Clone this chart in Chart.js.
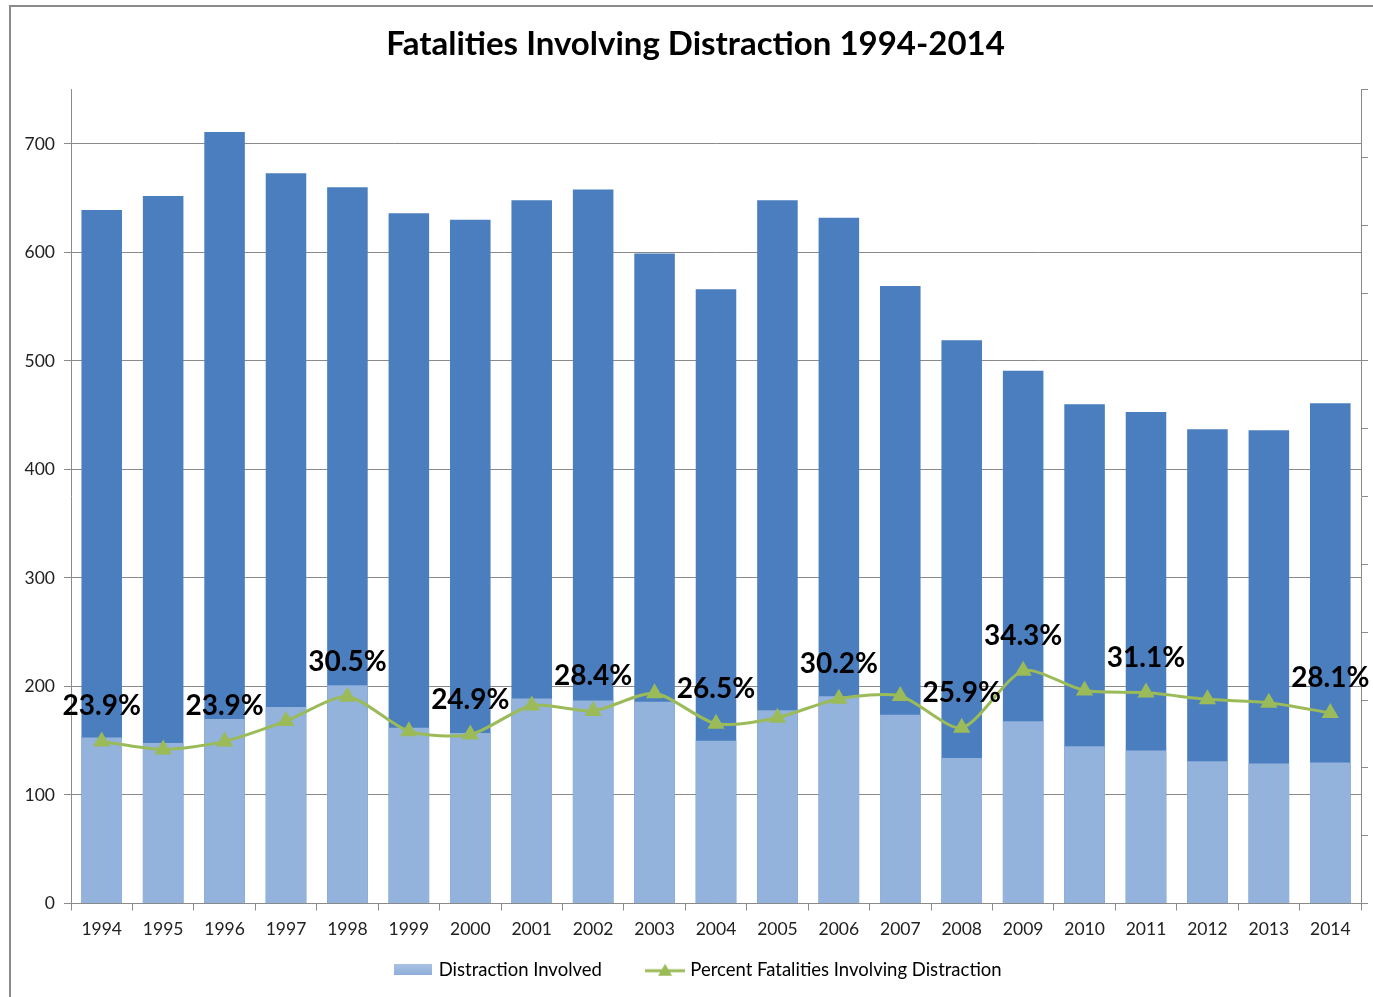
<!DOCTYPE html>
<html>
<head>
<meta charset="utf-8">
<script src="https://cdn.jsdelivr.net/npm/chart.js@4/dist/chart.umd.min.js"></script>
<style>
  html, body { margin: 0; padding: 0; background: #fff; }
  #wrap { position: relative; width: 1373px; height: 997px; overflow: hidden; }
  #frame { position: absolute; left: 9px; top: 5px; width: 1380px; height: 992px; border-left: 2px solid #8a8a8a; border-top: 2px solid #8a8a8a; box-sizing: border-box; }
  canvas { position: absolute; left: 0; top: 0; }
</style>
</head>
<body>
<div id="wrap">
  <div id="frame"></div>
  <canvas id="c" width="1373" height="997"></canvas>
</div>
<script>
const years = ['1994','1995','1996','1997','1998','1999','2000','2001','2002','2003','2004','2005','2006','2007','2008','2009','2010','2011','2012','2013','2014'];
const totalFatalities = [639, 652, 711, 673, 660, 636, 630, 648, 658, 599, 566, 648, 632, 569, 519, 491, 460, 453, 437, 436, 461];
const distractionInvolved = [153, 148, 170, 181, 201, 162, 157, 189, 187, 186, 150, 178, 191, 174, 134, 168, 145, 141, 131, 129, 130];
const percentDistraction = [0.239, 0.227, 0.239, 0.269, 0.305, 0.254, 0.249, 0.292, 0.284, 0.310, 0.265, 0.274, 0.302, 0.306, 0.259, 0.343, 0.314, 0.311, 0.301, 0.296, 0.281];
const percentLabels = ['23.9%', null, '23.9%', null, '30.5%', null, '24.9%', null, '28.4%', null, '26.5%', null, '30.2%', null, '25.9%', '34.3%', null, '31.1%', null, null, '28.1%'];
const leftTicks = [0, 100, 200, 300, 400, 500, 600, 700];

const FONT = "Lato, 'Open Sans', sans-serif";
const GREEN = '#9BBB59';

function makeBarIcon() {
  const c = document.createElement('canvas');
  c.width = 38; c.height = 11;
  const g = c.getContext('2d');
  const gr = g.createLinearGradient(0, 0, 0, 11);
  gr.addColorStop(0, '#a9c2e3'); gr.addColorStop(1, '#8eaedb');
  g.fillStyle = gr; g.fillRect(0, 0, 38, 11);
  return c;
}
function makeLineIcon() {
  const c = document.createElement('canvas');
  c.width = 40; c.height = 14;
  const g = c.getContext('2d');
  g.strokeStyle = GREEN; g.lineWidth = 3;
  g.beginPath(); g.moveTo(0, 8); g.lineTo(40, 8); g.stroke();
  g.fillStyle = GREEN;
  g.beginPath(); g.moveTo(20, 1); g.lineTo(27, 13); g.lineTo(13, 13); g.closePath(); g.fill();
  return c;
}
const barIcon = makeBarIcon();
const lineIcon = makeLineIcon();

const labelPlugin = {
  id: 'pctLabels',
  afterDatasetsDraw(chart) {
    const meta = chart.getDatasetMeta(2);
    const ctx = chart.ctx;
    ctx.save();
    ctx.font = "bold 28px " + FONT;
    ctx.fillStyle = '#000';
    ctx.textAlign = 'center';
    ctx.textBaseline = 'middle';
    meta.data.forEach((pt, i) => {
      if (percentLabels[i]) ctx.fillText(percentLabels[i], pt.x, pt.y - 35);
    });
    ctx.restore();
  }
};

// nudge title and legend horizontally to match the original's placement
const shiftPlugin = {
  id: 'shiftBlocks',
  afterLayout(chart) {
    if (chart.titleBlock) { chart.titleBlock.left += 9; chart.titleBlock.right += 9; }
    if (chart.legend) { chart.legend.left += 13; chart.legend.right += 13; }
  }
};

new Chart(document.getElementById('c'), {
  type: 'bar',
  data: {
    labels: years,
    datasets: [
      {
        label: 'Total Fatalities',
        data: totalFatalities,
        backgroundColor: '#4A7EBF',
        grouped: false,
        order: 2,
        categoryPercentage: 1,
        barPercentage: 0.66
      },
      {
        label: 'Distraction Involved',
        data: distractionInvolved,
        backgroundColor: '#93B2DC',
        grouped: false,
        order: 1,
        categoryPercentage: 1,
        barPercentage: 0.66
      },
      {
        type: 'line',
        label: 'Percent Fatalities Involving Distraction',
        data: percentDistraction,
        yAxisID: 'y1',
        borderColor: GREEN,
        backgroundColor: GREEN,
        borderWidth: 3,
        tension: 0.25,
        pointStyle: 'triangle',
        pointRadius: 7,
        pointBackgroundColor: GREEN,
        pointBorderColor: GREEN,
        order: 0
      }
    ]
  },
  options: {
    responsive: false,
    animation: false,
    layout: { padding: { left: 0, right: 0, top: 0, bottom: 8 } },
    plugins: {
      tooltip: { enabled: false },
      title: {
        display: true,
        text: 'Fatalities Involving Distraction 1994-2014',
        font: { family: FONT, size: 33, weight: 'bold' },
        color: '#000',
        padding: { top: 25, bottom: 25 }
      },
      legend: {
        position: 'bottom',
        labels: {
          usePointStyle: true,
          pointStyleWidth: 32,
          boxHeight: 14,
          padding: 14,
          font: { family: FONT, size: 18.5 },
          color: '#222',
          filter: (item) => item.datasetIndex !== 0,
          generateLabels: (chart) => {
            return chart.data.datasets.map((ds, i) => ({
              text: ds.label + (i === 1 ? '       ' : ''),
              datasetIndex: i,
              pointStyle: i === 2 ? lineIcon : barIcon,
              fillStyle: ds.backgroundColor,
              strokeStyle: 'transparent',
              lineWidth: 0,
              hidden: false
            }));
          }
        }
      }
    },
    scales: {
      x: {
        stacked: false,
        offset: true,
        grid: { display: true, drawOnChartArea: false, drawTicks: true, tickLength: 7, offset: true, color: '#8a8a8a' },
        border: { display: true, color: '#8a8a8a', width: 1 },
        ticks: { font: { family: FONT, size: 17.5 }, color: '#222', padding: 8, maxRotation: 0, autoSkip: false },
        afterFit: (s) => { s.height = s.height - 1; }
      },
      y: {
        position: 'left',
        min: 0,
        max: 750,
        bounds: 'data',
        grid: { color: '#8a8a8a', lineWidth: 1, drawTicks: true, tickLength: 7 },
        border: { display: true, color: '#8a8a8a', width: 1 },
        ticks: { stepSize: 100, font: { family: FONT, size: 17.5 }, color: '#222', padding: 9 },
        afterBuildTicks: (s) => { s.ticks = leftTicks.map(v => ({ value: v })); },
        afterFit: (s) => { s.width = 71; }
      },
      y1: {
        position: 'right',
        min: 0,
        max: 1.2,
        grid: { drawOnChartArea: false, drawTicks: true, tickLength: 7, color: '#8a8a8a' },
        border: { display: true, color: '#8a8a8a', width: 1 },
        ticks: { stepSize: 0.1, display: false },
        afterFit: (s) => { s.width = 12; }
      }
    }
  },
  plugins: [labelPlugin, shiftPlugin]
});
</script>
</body>
</html>
